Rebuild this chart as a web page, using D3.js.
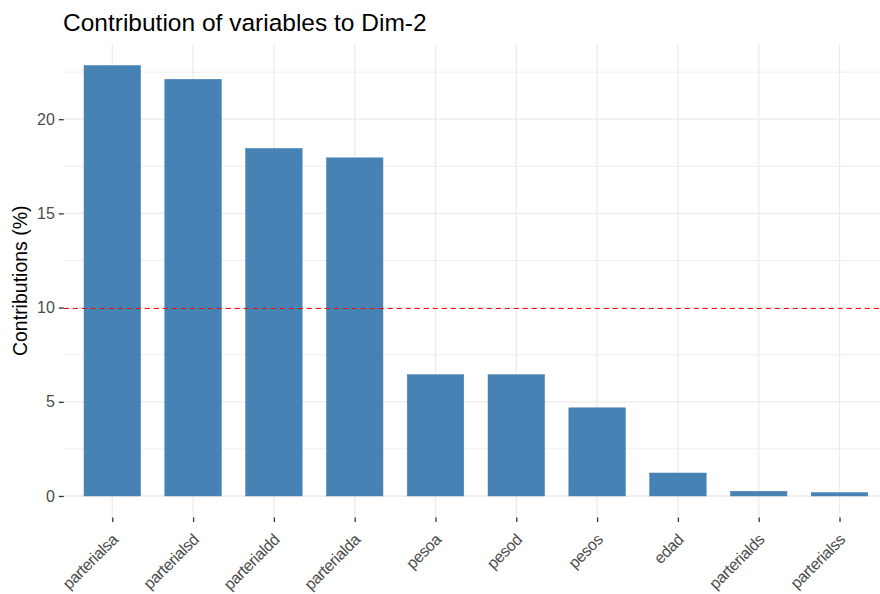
<!DOCTYPE html>
<html><head><meta charset="utf-8">
<script src="https://cdn.jsdelivr.net/npm/d3@7"></script>
<style>body{margin:0;background:#fff}svg{display:block;font-family:"Liberation Sans",Arial,sans-serif}</style>
</head><body><svg id="c" width="880" height="594"></svg>
<script>
const categories = ["parterialsa","parterialsd","parterialdd","parterialda","pesoa","pesod","pesos","edad","parterialds","parterialss"];
const contributions = [22.85, 22.12, 18.45, 17.95, 6.44, 6.44, 4.68, 1.22, 0.25, 0.18];
const yTicks = [0, 5, 10, 15, 20];
const yMinor = [2.5, 7.5, 12.5, 17.5, 22.5];
const refLine = 10;

const svg = d3.select("#c");
const L = 63.8, R = 888, T = 44, B = 517.5;
const maxV = d3.max(contributions);
const y = d3.scaleLinear().domain([-0.05*maxV, maxV*1.05]).range([B, T]);
const step = (R - L) / (categories.length - 1 + 1.2);
const x = d3.scalePoint().domain(categories).range([L + 0.6*step, R - 0.6*step]);
const bw = step * 0.7;

const g = svg.append("g");
g.selectAll(".ymin").data(yMinor).join("line")
  .attr("x1", L).attr("x2", R).attr("y1", d=>y(d)).attr("y2", d=>y(d))
  .attr("stroke", "#EBEBEB").attr("stroke-width", 0.8);
g.selectAll(".ymaj").data(yTicks).join("line")
  .attr("x1", L).attr("x2", R).attr("y1", d=>y(d)).attr("y2", d=>y(d))
  .attr("stroke", "#EBEBEB").attr("stroke-width", 1.3);
g.selectAll(".xmaj").data(categories).join("line")
  .attr("x1", d=>x(d)).attr("x2", d=>x(d)).attr("y1", T).attr("y2", B)
  .attr("stroke", "#EBEBEB").attr("stroke-width", 1.3);

g.selectAll(".bar").data(categories).join("rect")
  .attr("x", d=>x(d)-bw/2).attr("width", bw)
  .attr("y", (d,i)=>y(contributions[i])).attr("height", (d,i)=>y(0)-y(contributions[i]))
  .attr("fill", "#4682B4").attr("stroke", "#4682B4").attr("stroke-width", 0.5);

const ry = Math.round(y(refLine)) + 0.5;
g.append("line").attr("x1", L).attr("x2", R).attr("y1", ry).attr("y2", ry)
  .attr("stroke", "#FF0000").attr("stroke-width", 1.1).attr("stroke-dasharray", "5,4");

const ya = svg.append("g").attr("transform", `translate(${L},0)`)
  .call(d3.axisLeft(y).tickValues(yTicks).tickSize(5).tickPadding(4).tickFormat(d3.format("d")));
ya.select(".domain").remove();
ya.selectAll(".tick line").attr("stroke", "#333333").attr("stroke-width", 1.3);
ya.selectAll(".tick text").attr("fill", "#4D4D4D").style("font-size", "16px");

const xa = svg.append("g").attr("transform", `translate(0,${B})`)
  .call(d3.axisBottom(x).tickSize(4.5).tickPadding(2));
xa.select(".domain").remove();
xa.selectAll(".tick line").attr("stroke", "#333333").attr("stroke-width", 1.3);
xa.selectAll(".tick text").attr("fill", "#4D4D4D").style("font-size", "16px")
  .style("letter-spacing", "-0.4px")
  .attr("text-anchor", "end").attr("dy", "0.72em").attr("y", 0)
  .attr("transform", "translate(-2,15) rotate(-45)");

svg.append("text").attr("transform", `translate(27,${(T+B)/2}) rotate(-90)`)
  .attr("text-anchor", "middle").style("font-size", "19.5px").attr("fill", "#000").text("Contributions (%)");

svg.append("text").attr("x", 63).attr("y", 31).style("font-size", "24.5px").attr("fill", "#000")
  .text("Contribution of variables to Dim-2");
</script></body></html>
